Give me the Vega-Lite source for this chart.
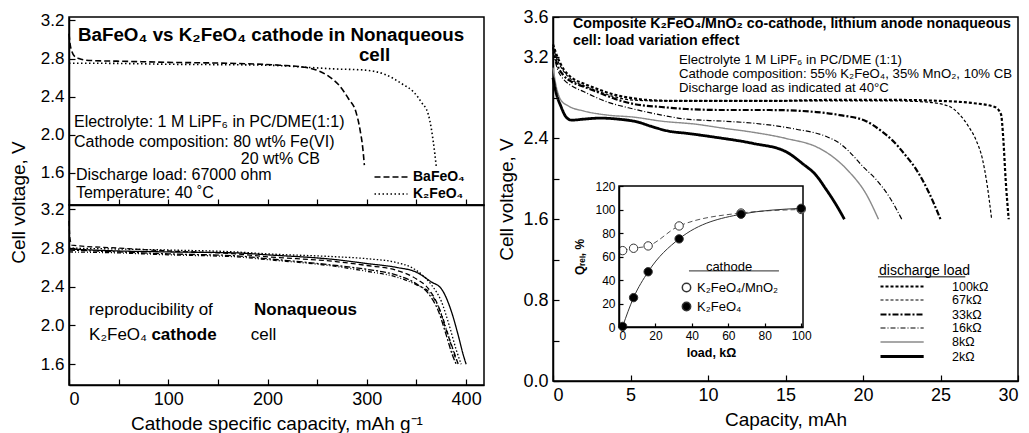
{
  "$schema": "https://vega.github.io/schema/vega-lite/v6.json",
  "background": "white",
  "padding": {"left": 8, "top": 7, "right": 2, "bottom": 2},
  "datasets": {
    "top": [
      {"s":"BaFeO₄","c":0,"v":3.06},{"s":"BaFeO₄","c":1,"v":2.96},{"s":"BaFeO₄","c":3,"v":2.87},{"s":"BaFeO₄","c":6,"v":2.82},{"s":"BaFeO₄","c":10,"v":2.8},{"s":"BaFeO₄","c":20,"v":2.78},{"s":"BaFeO₄","c":60,"v":2.77},{"s":"BaFeO₄","c":100,"v":2.76},{"s":"BaFeO₄","c":161,"v":2.75},{"s":"BaFeO₄","c":212,"v":2.73},{"s":"BaFeO₄","c":236,"v":2.71},{"s":"BaFeO₄","c":249,"v":2.68},{"s":"BaFeO₄","c":262,"v":2.61},{"s":"BaFeO₄","c":272,"v":2.52},{"s":"BaFeO₄","c":282,"v":2.37},{"s":"BaFeO₄","c":289,"v":2.24},{"s":"BaFeO₄","c":293,"v":2.06},{"s":"BaFeO₄","c":296,"v":1.85},{"s":"BaFeO₄","c":297.5,"v":1.68},
      {"s":"K₂FeO₄","c":0,"v":2.75},{"s":"K₂FeO₄","c":30,"v":2.75},{"s":"K₂FeO₄","c":100,"v":2.74},{"s":"K₂FeO₄","c":200,"v":2.73},{"s":"K₂FeO₄","c":236,"v":2.71},{"s":"K₂FeO₄","c":269,"v":2.69},{"s":"K₂FeO₄","c":296,"v":2.68},{"s":"K₂FeO₄","c":319,"v":2.63},{"s":"K₂FeO₄","c":336,"v":2.53},{"s":"K₂FeO₄","c":347,"v":2.45},{"s":"K₂FeO₄","c":355,"v":2.34},{"s":"K₂FeO₄","c":362,"v":2.21},{"s":"K₂FeO₄","c":365,"v":2.06},{"s":"K₂FeO₄","c":367,"v":1.92},{"s":"K₂FeO₄","c":370,"v":1.66}
    ],
    "rep": [
      {"s":"R1","c":0,"v":2.8},{"s":"R1","c":50,"v":2.79},{"s":"R1","c":100,"v":2.78},{"s":"R1","c":168,"v":2.76},{"s":"R1","c":200,"v":2.74},{"s":"R1","c":269,"v":2.71},{"s":"R1","c":300,"v":2.69},{"s":"R1","c":330,"v":2.65},{"s":"R1","c":345,"v":2.6},{"s":"R1","c":355,"v":2.53},{"s":"R1","c":365,"v":2.42},{"s":"R1","c":375,"v":2.25},{"s":"R1","c":383,"v":2.0},{"s":"R1","c":390,"v":1.75},{"s":"R1","c":395,"v":1.6},
      {"s":"R2","c":0,"v":3.08},{"s":"R2","c":1,"v":2.9},{"s":"R2","c":3,"v":2.83},{"s":"R2","c":50,"v":2.8},{"s":"R2","c":100,"v":2.77},{"s":"R2","c":168,"v":2.74},{"s":"R2","c":200,"v":2.71},{"s":"R2","c":269,"v":2.66},{"s":"R2","c":300,"v":2.62},{"s":"R2","c":330,"v":2.57},{"s":"R2","c":350,"v":2.48},{"s":"R2","c":362,"v":2.38},{"s":"R2","c":372,"v":2.2},{"s":"R2","c":380,"v":1.95},{"s":"R2","c":387,"v":1.75},{"s":"R2","c":392,"v":1.6},
      {"s":"R3","c":0,"v":2.78},{"s":"R3","c":50,"v":2.76},{"s":"R3","c":100,"v":2.74},{"s":"R3","c":168,"v":2.72},{"s":"R3","c":200,"v":2.69},{"s":"R3","c":269,"v":2.62},{"s":"R3","c":300,"v":2.58},{"s":"R3","c":330,"v":2.52},{"s":"R3","c":350,"v":2.43},{"s":"R3","c":362,"v":2.33},{"s":"R3","c":372,"v":2.15},{"s":"R3","c":380,"v":1.9},{"s":"R3","c":386,"v":1.7},{"s":"R3","c":390,"v":1.6},
      {"s":"R4","c":0,"v":2.76},{"s":"R4","c":50,"v":2.75},{"s":"R4","c":100,"v":2.73},{"s":"R4","c":168,"v":2.71},{"s":"R4","c":200,"v":2.68},{"s":"R4","c":269,"v":2.61},{"s":"R4","c":300,"v":2.56},{"s":"R4","c":330,"v":2.5},{"s":"R4","c":350,"v":2.42},{"s":"R4","c":365,"v":2.32},{"s":"R4","c":375,"v":2.12},{"s":"R4","c":382,"v":1.9},{"s":"R4","c":388,"v":1.7},{"s":"R4","c":392,"v":1.6},
      {"s":"R5","c":0,"v":2.79},{"s":"R5","c":50,"v":2.77},{"s":"R5","c":100,"v":2.76},{"s":"R5","c":168,"v":2.75},{"s":"R5","c":200,"v":2.73},{"s":"R5","c":269,"v":2.68},{"s":"R5","c":300,"v":2.64},{"s":"R5","c":330,"v":2.6},{"s":"R5","c":350,"v":2.55},{"s":"R5","c":365,"v":2.45},{"s":"R5","c":375,"v":2.38},{"s":"R5","c":385,"v":2.15},{"s":"R5","c":392,"v":1.9},{"s":"R5","c":397,"v":1.7},{"s":"R5","c":400,"v":1.6}
    ],
    "load": [
      {"s":"100kΩ","c":0,"v":3.33},{"s":"100kΩ","c":0.3,"v":3.2},{"s":"100kΩ","c":0.7,"v":3.08},{"s":"100kΩ","c":1.2,"v":3.0},{"s":"100kΩ","c":2,"v":2.94},{"s":"100kΩ","c":3,"v":2.88},{"s":"100kΩ","c":4,"v":2.83},{"s":"100kΩ","c":5,"v":2.8},{"s":"100kΩ","c":6,"v":2.78},{"s":"100kΩ","c":8,"v":2.77},{"s":"100kΩ","c":14,"v":2.77},{"s":"100kΩ","c":18,"v":2.78},{"s":"100kΩ","c":22,"v":2.78},{"s":"100kΩ","c":25,"v":2.77},{"s":"100kΩ","c":27,"v":2.75},{"s":"100kΩ","c":28.5,"v":2.71},{"s":"100kΩ","c":28.9,"v":2.64},{"s":"100kΩ","c":29.05,"v":2.4},{"s":"100kΩ","c":29.2,"v":2.0},{"s":"100kΩ","c":29.4,"v":1.6},
      {"s":"67kΩ","c":0,"v":3.3},{"s":"67kΩ","c":0.3,"v":3.17},{"s":"67kΩ","c":0.7,"v":3.06},{"s":"67kΩ","c":1.2,"v":2.98},{"s":"67kΩ","c":2,"v":2.92},{"s":"67kΩ","c":3,"v":2.86},{"s":"67kΩ","c":4,"v":2.81},{"s":"67kΩ","c":5,"v":2.78},{"s":"67kΩ","c":7,"v":2.77},{"s":"67kΩ","c":14,"v":2.77},{"s":"67kΩ","c":22,"v":2.77},{"s":"67kΩ","c":24,"v":2.76},{"s":"67kΩ","c":25.5,"v":2.72},{"s":"67kΩ","c":26.2,"v":2.64},{"s":"67kΩ","c":26.8,"v":2.52},{"s":"67kΩ","c":27.3,"v":2.38},{"s":"67kΩ","c":27.7,"v":2.2},{"s":"67kΩ","c":28.0,"v":1.95},{"s":"67kΩ","c":28.3,"v":1.6},
      {"s":"33kΩ","c":0,"v":3.3},{"s":"33kΩ","c":0.3,"v":3.12},{"s":"33kΩ","c":0.7,"v":3.02},{"s":"33kΩ","c":1.2,"v":2.96},{"s":"33kΩ","c":2,"v":2.91},{"s":"33kΩ","c":3,"v":2.85},{"s":"33kΩ","c":4,"v":2.79},{"s":"33kΩ","c":5.2,"v":2.74},{"s":"33kΩ","c":7,"v":2.71},{"s":"33kΩ","c":8.6,"v":2.69},{"s":"33kΩ","c":11,"v":2.68},{"s":"33kΩ","c":14,"v":2.68},{"s":"33kΩ","c":17,"v":2.66},{"s":"33kΩ","c":18.5,"v":2.63},{"s":"33kΩ","c":20.2,"v":2.57},{"s":"33kΩ","c":21.2,"v":2.47},{"s":"33kΩ","c":21.9,"v":2.38},{"s":"33kΩ","c":22.7,"v":2.24},{"s":"33kΩ","c":23.4,"v":2.1},{"s":"33kΩ","c":24.2,"v":1.88},{"s":"33kΩ","c":25,"v":1.6},
      {"s":"16kΩ","c":0,"v":3.25},{"s":"16kΩ","c":0.3,"v":3.08},{"s":"16kΩ","c":0.7,"v":2.98},{"s":"16kΩ","c":1.2,"v":2.92},{"s":"16kΩ","c":2,"v":2.86},{"s":"16kΩ","c":3.5,"v":2.76},{"s":"16kΩ","c":5.2,"v":2.69},{"s":"16kΩ","c":7,"v":2.63},{"s":"16kΩ","c":8.6,"v":2.59},{"s":"16kΩ","c":11,"v":2.57},{"s":"16kΩ","c":12.9,"v":2.55},{"s":"16kΩ","c":15.7,"v":2.49},{"s":"16kΩ","c":17.6,"v":2.42},{"s":"16kΩ","c":18.5,"v":2.35},{"s":"16kΩ","c":19.1,"v":2.27},{"s":"16kΩ","c":20.0,"v":2.12},{"s":"16kΩ","c":20.8,"v":2.0},{"s":"16kΩ","c":21.7,"v":1.82},{"s":"16kΩ","c":22.5,"v":1.6},
      {"s":"8kΩ","c":0,"v":3.1},{"s":"8kΩ","c":0.2,"v":2.92},{"s":"8kΩ","c":0.5,"v":2.78},{"s":"8kΩ","c":1,"v":2.72},{"s":"8kΩ","c":2,"v":2.67},{"s":"8kΩ","c":3.5,"v":2.63},{"s":"8kΩ","c":5.2,"v":2.61},{"s":"8kΩ","c":7,"v":2.57},{"s":"8kΩ","c":9.2,"v":2.54},{"s":"8kΩ","c":11,"v":2.5},{"s":"8kΩ","c":12.9,"v":2.46},{"s":"8kΩ","c":15,"v":2.4},{"s":"8kΩ","c":17.2,"v":2.3},{"s":"8kΩ","c":18.2,"v":2.2},{"s":"8kΩ","c":19.1,"v":2.07},{"s":"8kΩ","c":20.2,"v":1.85},{"s":"8kΩ","c":21,"v":1.6},
      {"s":"2kΩ","c":0,"v":3.0},{"s":"2kΩ","c":0.2,"v":2.85},{"s":"2kΩ","c":0.5,"v":2.72},{"s":"2kΩ","c":0.85,"v":2.61},{"s":"2kΩ","c":1.2,"v":2.58},{"s":"2kΩ","c":2,"v":2.59},{"s":"2kΩ","c":3,"v":2.6},{"s":"2kΩ","c":4.2,"v":2.59},{"s":"2kΩ","c":5.5,"v":2.56},{"s":"2kΩ","c":6.3,"v":2.52},{"s":"2kΩ","c":7.5,"v":2.47},{"s":"2kΩ","c":8.6,"v":2.45},{"s":"2kΩ","c":10.5,"v":2.41},{"s":"2kΩ","c":12.9,"v":2.35},{"s":"2kΩ","c":15,"v":2.27},{"s":"2kΩ","c":16.1,"v":2.15},{"s":"2kΩ","c":17,"v":2.03},{"s":"2kΩ","c":17.6,"v":1.9},{"s":"2kΩ","c":18.2,"v":1.76},{"s":"2kΩ","c":18.8,"v":1.6}
    ],
    "inset": [
      {"k":"K₂FeO₄/MnO₂","l":2,"q":65},{"k":"K₂FeO₄/MnO₂","l":8,"q":67},{"k":"K₂FeO₄/MnO₂","l":16,"q":69},{"k":"K₂FeO₄/MnO₂","l":33,"q":86},{"k":"K₂FeO₄/MnO₂","l":67,"q":97},{"k":"K₂FeO₄/MnO₂","l":100,"q":100},
      {"k":"K₂FeO₄","l":2,"q":0.5},{"k":"K₂FeO₄","l":8,"q":25},{"k":"K₂FeO₄","l":16,"q":47},{"k":"K₂FeO₄","l":33,"q":75},{"k":"K₂FeO₄","l":67,"q":96},{"k":"K₂FeO₄","l":100,"q":101}
    ]
  },
  "hconcat": [
    {
      "spacing": 0,
      "bounds": "flush",
      "resolve": {"scale": {"strokeDash": "independent"}, "legend": {"strokeDash": "independent"}},
      "vconcat": [
        {
          "width": 415, "height": 188,
          "layer": [
            {
              "data": {"name": "top"},
              "mark": {"type": "line", "color": "black", "strokeWidth": 1.6, "interpolate": "monotone"},
              "encoding": {
                "x": {"field": "c", "type": "quantitative", "scale": {"domain": [0, 418], "nice": false, "zero": false},
                      "axis": {"values": [0,50,100,150,200,250,300,350,400], "labels": false, "title": null, "tickSize": -6}},
                "y": {"field": "v", "type": "quantitative", "scale": {"domain": [1.262, 3.236], "nice": false, "zero": false},
                      "axis": {"values": [1.6,2.0,2.4,2.8,3.2], "format": ".1f",
                               "labelOverlap": false, "tickSize": -6, "labelPadding": 11, "labelFontSize": 17, "title": "Cell voltage, V", "titleFontSize": 19, "titleY": 185, "titlePadding": 12}},
                "strokeDash": {"field": "s", "type": "nominal",
                  "scale": {"domain": ["BaFeO₄", "K₂FeO₄"], "range": [[6, 3], [1.5, 2.5]]},
                  "legend": {"orient": "none", "legendX": 304, "legendY": 153, "title": null, "symbolType": "M-1,0H5", "symbolSize": 121,
                             "symbolStrokeWidth": 1.5, "symbolStrokeColor": "black", "symbolFillColor": "transparent", "labelFontSize": 14, "labelFontWeight": "bold", "labelOffset": 26, "rowPadding": 3}}
              }
            },
            {
              "data": {"values": [
                {"x": 9, "y": 3.047, "t": "BaFeO₄ vs K₂FeO₄ cathode in Nonaqueous"},
                {"x": 292, "y": 2.84, "t": "cell"}
              ]},
              "mark": {"type": "text", "align": "left", "baseline": "middle", "fontSize": 18.8, "fontWeight": "bold"},
              "encoding": {
                "x": {"field": "x", "type": "quantitative"},
                "y": {"field": "y", "type": "quantitative"},
                "text": {"field": "t"}
              }
            },
            {
              "data": {"values": [
                {"x": 5, "y": 2.133, "t": "Electrolyte: 1 M LiPF₆ in PC/DME(1:1)"},
                {"x": 5, "y": 1.923, "t": "Cathode composition: 80 wt% Fe(VI)"},
                {"x": 173, "y": 1.745, "t": "20 wt% CB"},
                {"x": 7, "y": 1.577, "t": "Discharge load: 67000 ohm"},
                {"x": 7, "y": 1.388, "t": "Temperature: 40 ˚C"}
              ]},
              "mark": {"type": "text", "align": "left", "baseline": "middle", "fontSize": 16},
              "encoding": {
                "x": {"field": "x", "type": "quantitative"},
                "y": {"field": "y", "type": "quantitative"},
                "text": {"field": "t"}
              }
            }
          ]
        },
        {
          "width": 415, "height": 180,
          "layer": [
            {
              "data": {"name": "rep"},
              "mark": {"type": "line", "color": "black", "strokeWidth": 1.3, "interpolate": "monotone"},
              "encoding": {
                "x": {"field": "c", "type": "quantitative", "scale": {"domain": [0, 418], "nice": false, "zero": false},
                      "axis": {"values": [0,50,100,150,200,250,300,350,400], "labelExpr": "datum.value % 100 == 0 ? datum.label : ''",
                               "labelOverlap": false, "tickSize": -6, "labelPadding": 11, "labelFontSize": 18, "title": "Cathode specific capacity, mAh g⁻¹", "titleFontSize": 19, "titlePadding": 6}},
                "y": {"field": "v", "type": "quantitative", "scale": {"domain": [1.385, 3.245], "nice": false, "zero": false},
                      "axis": {"values": [1.6,2.0,2.4,2.8,3.2], "format": ".1f",
                               "labelOverlap": false, "tickSize": -6, "labelPadding": 11, "labelFontSize": 17, "title": null}},
                "strokeDash": {"field": "s", "type": "nominal",
                  "scale": {"domain": ["R1","R2","R3","R4","R5"], "range": [[1.5, 2], [5, 3], [6, 2, 2, 2], [4, 2, 1, 2, 1, 2], [1, 0]]},
                  "legend": null}
              }
            },
            {
              "data": {"values": [
                {"x": 20.2, "y": 2.16, "t": "reproducibility of"},
                {"x": 20.2, "y": 1.9, "t": "K₂FeO₄"},
                {"x": 183, "y": 1.9, "t": "cell"}
              ]},
              "mark": {"type": "text", "align": "left", "baseline": "middle", "fontSize": 17},
              "encoding": {
                "x": {"field": "x", "type": "quantitative"},
                "y": {"field": "y", "type": "quantitative"},
                "text": {"field": "t"}
              }
            },
            {
              "data": {"values": [
                {"x": 186.4, "y": 2.16, "t": "Nonaqueous"},
                {"x": 83, "y": 1.9, "t": "cathode"}
              ]},
              "mark": {"type": "text", "align": "left", "baseline": "middle", "fontSize": 17, "fontWeight": "bold"},
              "encoding": {
                "x": {"field": "x", "type": "quantitative"},
                "y": {"field": "y", "type": "quantitative"},
                "text": {"field": "t"}
              }
            }
          ]
        }
      ]
    },
    {
      "width": 465, "height": 364,
      "layer": [
        {
          "layer": [
            {
              "data": {"name": "load"},
              "mark": {"type": "line", "interpolate": "monotone"},
              "encoding": {
                "x": {"field": "c", "type": "quantitative", "scale": {"domain": [0, 30], "nice": false, "zero": false},
                      "axis": {"orient": "bottom", "values": [0,2.5,5,7.5,10,12.5,15,17.5,20,22.5,25,27.5,30], "labelExpr": "datum.value % 5 == 0 ? datum.label : ''",
                               "labelOverlap": false, "tickSize": -6, "labelPadding": 11, "labelFontSize": 18, "title": "Capacity, mAh", "titleFontSize": 19, "titlePadding": 6}},
                "y": {"field": "v", "type": "quantitative", "scale": {"domain": [0, 3.6], "nice": false, "zero": false},
                      "axis": {"orient": "left", "values": [0,0.4,0.8,1.2,1.6,2.0,2.4,2.8,3.2,3.6],
                               "labelExpr": "(round(datum.value*10) % 8 == 0 || round(datum.value*10) == 36) ? format(datum.value, '.1f') : ''",
                               "labelOverlap": false, "tickSize": -6, "labelPadding": 11, "labelFontSize": 18, "title": "Cell voltage, V", "titleFontSize": 19, "titlePadding": 6}},
                "strokeDash": {"field": "s", "type": "nominal", "title": "discharge load",
                  "scale": {"domain": ["100kΩ","67kΩ","33kΩ","16kΩ","8kΩ","2kΩ"], "range": [[3, 2], [3, 2], [6, 2, 2, 2], [5, 2, 1, 2], [1, 0], [1, 0]]},
                  "legend": {"orient": "none", "legendX": 326, "legendY": 247, "symbolType": "M-1,0H6.2", "symbolSize": 144, "symbolFillColor": "transparent", "labelFontSize": 12.5,
                             "labelOffset": 58, "titleFontSize": 14, "titleFontWeight": "normal", "titlePadding": 1, "rowPadding": 0}},
                "strokeWidth": {"field": "s", "type": "ordinal", "title": "discharge load",
                  "scale": {"type": "ordinal", "domain": ["100kΩ","67kΩ","33kΩ","16kΩ","8kΩ","2kΩ"], "range": [2.2, 1.2, 2.2, 1.2, 1.4, 2.8]},
                  "legend": {"orient": "none", "legendX": 326, "legendY": 247, "symbolType": "M-1,0H6.2", "symbolSize": 144, "symbolFillColor": "transparent", "labelFontSize": 12.5,
                             "labelOffset": 58, "titleFontSize": 14, "titleFontWeight": "normal", "titlePadding": 1, "rowPadding": 0}},
                "color": {"field": "s", "type": "nominal", "title": "discharge load",
                  "scale": {"domain": ["100kΩ","67kΩ","33kΩ","16kΩ","8kΩ","2kΩ"], "range": ["black","black","black","black","#8a8a8a","black"]},
                  "legend": {"orient": "none", "legendX": 326, "legendY": 247, "symbolType": "M-1,0H6.2", "symbolSize": 144, "symbolFillColor": "transparent", "labelFontSize": 12.5,
                             "labelOffset": 58, "titleFontSize": 14, "titleFontWeight": "normal", "titlePadding": 1, "rowPadding": 0}}
              }
            },
            {
              "data": {"values": [{}]},
              "mark": {"type": "rule", "color": "black", "strokeWidth": 1},
              "encoding": {
                "x": {"datum": 20.97, "type": "quantitative"},
                "x2": {"datum": 26.6},
                "y": {"datum": 1.03, "type": "quantitative"}
              }
            },
            {
              "data": {"values": [
                {"x": 8.13, "y": 3.178, "t": "Electrolyte 1 M LiPF₆ in PC/DME (1:1)"},
                {"x": 8.13, "y": 3.04, "t": "Cathode composition: 55% K₂FeO₄, 35% MnO₂, 10% CB"},
                {"x": 8.13, "y": 2.9, "t": "Discharge load as indicated at 40°C"}
              ]},
              "mark": {"type": "text", "align": "left", "baseline": "middle", "fontSize": 13.2},
              "encoding": {
                "x": {"field": "x", "type": "quantitative"},
                "y": {"field": "y", "type": "quantitative"},
                "text": {"field": "t"}
              }
            },
            {
              "data": {"values": [
                {"x": 1.29, "y": 3.535, "t": "Composite K₂FeO₄/MnO₂ co-cathode, lithium anode nonaqueous"},
                {"x": 1.29, "y": 3.366, "t": "cell: load variation effect"}
              ]},
              "mark": {"type": "text", "align": "left", "baseline": "middle", "fontSize": 14.2, "fontWeight": "bold"},
              "encoding": {
                "x": {"field": "x", "type": "quantitative"},
                "y": {"field": "y", "type": "quantitative"},
                "text": {"field": "t"}
              }
            }
          ]
        },
        {
          "layer": [
            {
              "data": {"values": [{}]},
              "mark": {"type": "rect", "filled": false, "stroke": "black", "strokeWidth": 1.5},
              "encoding": {
                "x": {"datum": 0, "type": "quantitative", "scale": {"domain": [0, 101], "range": [66, 250], "nice": false, "zero": false},
                      "axis": {"orient": "bottom", "offset": -54, "values": [0,20,40,60,80,100], "tickSize": -4, "labelPadding": 7, "labelFontSize": 12,
                               "title": "load, kΩ", "titleFontSize": 12.5, "titleFontWeight": "bold", "titlePadding": 5, "zindex": 1, "domainWidth": 1.5}},
                "x2": {"datum": 101},
                "y": {"datum": 0, "type": "quantitative", "scale": {"domain": [0, 120], "range": [310, 169], "nice": false, "zero": false},
                      "axis": {"orient": "left", "offset": -66, "values": [0,20,40,60,80,100,120], "tickSize": -4, "labelPadding": 8, "labelFontSize": 12,
                               "title": "Qᵣₑₗ, %", "titleFontSize": 12, "titleFontWeight": "bold", "titlePadding": 8, "zindex": 1, "domainWidth": 1.5}},
                "y2": {"datum": 120}
              }
            },
            {
              "data": {"values": [{}]},
              "mark": {"type": "rule", "color": "#555", "strokeWidth": 1.2},
              "encoding": {
                "x": {"datum": 38.4, "type": "quantitative"},
                "x2": {"datum": 87.8},
                "y": {"datum": 47.7, "type": "quantitative"}
              }
            },
            {
              "data": {"name": "inset"},
              "transform": [{"filter": "datum.k == 'K₂FeO₄/MnO₂'"}],
              "mark": {"type": "line", "color": "#555", "strokeWidth": 1, "strokeDash": [5, 3], "interpolate": "monotone"},
              "encoding": {
                "x": {"field": "l", "type": "quantitative"},
                "y": {"field": "q", "type": "quantitative"}
              }
            },
            {
              "data": {"name": "inset"},
              "transform": [{"filter": "datum.k == 'K₂FeO₄'"}],
              "mark": {"type": "line", "color": "#333", "strokeWidth": 1, "interpolate": "monotone"},
              "encoding": {
                "x": {"field": "l", "type": "quantitative"},
                "y": {"field": "q", "type": "quantitative"}
              }
            },
            {
              "data": {"name": "inset"},
              "mark": {"type": "point", "filled": true, "stroke": "#333", "strokeWidth": 1, "size": 70, "opacity": 1},
              "encoding": {
                "x": {"field": "l", "type": "quantitative"},
                "y": {"field": "q", "type": "quantitative"},
                "fill": {"field": "k", "type": "nominal", "title": "cathode",
                  "scale": {"domain": ["K₂FeO₄/MnO₂", "K₂FeO₄"], "range": ["white", "black"]},
                  "legend": {"orient": "none", "legendX": 127, "legendY": 244, "symbolType": "circle", "symbolSize": 70, "symbolStrokeColor": "#333",
                             "labelFontSize": 13, "titleFontSize": 13, "titleFontWeight": "normal", "titleAnchor": "middle", "rowPadding": 4, "titlePadding": 7}}
              }
            }
          ]
        }
      ],
      "resolve": {"scale": {"x": "independent", "y": "independent"}, "axis": {"x": "independent", "y": "independent"}}
    }
  ],
  "spacing": 12,
  "resolve": {
    "scale": {"strokeDash": "independent", "strokeWidth": "independent", "color": "independent", "fill": "independent"},
    "legend": {"strokeDash": "independent", "strokeWidth": "independent", "color": "independent", "fill": "independent"}
  },
  "config": {
    "font": "Liberation Sans",
    "view": {"stroke": "black", "strokeWidth": 1.5},
    "axis": {"grid": false, "domainColor": "black", "tickColor": "black", "labelColor": "black", "titleColor": "black",
             "titleFontWeight": "normal", "domainWidth": 1.5, "tickWidth": 1.2, "labelFont": "Liberation Sans", "titleFont": "Liberation Sans"},
    "legend": {"labelColor": "black", "titleColor": "black", "labelFont": "Liberation Sans", "titleFont": "Liberation Sans"},
    "text": {"color": "black", "font": "Liberation Sans"}
  }
}
